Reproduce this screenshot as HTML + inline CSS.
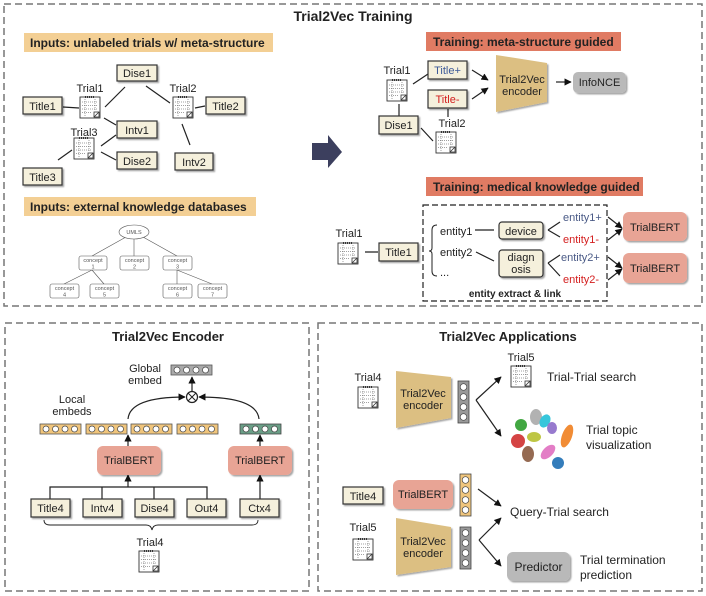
<!DOCTYPE html>
<html><head><meta charset="utf-8"><style>
html,body{margin:0;padding:0;background:#fff}
svg{display:block}
text{font-family:"Liberation Sans",sans-serif;font-size:11px;fill:#222}
.b{font-weight:bold}
.box{fill:#f5f0dc;stroke:#333;stroke-width:1.2}
.ln{stroke:#222;stroke-width:1.2;fill:none}
.c, .c text{font-size:5.5px;fill:#555}
</style></head><body>
<svg width="706" height="596" viewBox="0 0 706 596" xmlns="http://www.w3.org/2000/svg">
<defs>
<marker id="ah" viewBox="0 0 10 10" refX="9" refY="5" markerWidth="6" markerHeight="6" orient="auto"><path d="M0,0L10,5L0,10z" fill="#111"/></marker>
<filter id="sh" x="-20%" y="-20%" width="150%" height="150%"><feDropShadow dx="1.5" dy="1.5" stdDeviation="0.8" flood-color="#000" flood-opacity="0.35"/></filter>
<g id="icon">
<rect x="0" y="2" width="20" height="21" fill="#fff" stroke="#333" stroke-width="0.9"/>
<path d="M5,2 h10" stroke="#333" stroke-width="2" stroke-dasharray="1,1"/>
<path d="M2,7h16M2,10.5h16M2,14h16M2,17.5h10" stroke="#444" stroke-width="0.6" stroke-dasharray="1,1"/>
<path d="M5,4v17M15,4v12" stroke="#444" stroke-width="0.5" stroke-dasharray="1,1"/>
<rect x="14" y="17" width="5" height="5" fill="#fff" stroke="#333" stroke-width="0.8"/>
<path d="M14,22L19,17" stroke="#333" stroke-width="0.8"/>
</g>
<g id="hv"><rect x="0" y="0" width="41" height="10" fill="#f0c57c" stroke="#555" stroke-width="0.8"/>
<circle cx="6" cy="5" r="3" fill="#fff" stroke="#444" stroke-width="0.7"/><circle cx="15.5" cy="5" r="3" fill="#fff" stroke="#444" stroke-width="0.7"/><circle cx="25" cy="5" r="3" fill="#fff" stroke="#444" stroke-width="0.7"/><circle cx="34.5" cy="5" r="3" fill="#fff" stroke="#444" stroke-width="0.7"/></g>
<g id="vv"><rect x="0" y="0" width="11" height="42" fill="#999" stroke="#444" stroke-width="0.8"/>
<circle cx="5.5" cy="6" r="3.3" fill="#fff" stroke="#444" stroke-width="0.7"/><circle cx="5.5" cy="16" r="3.3" fill="#fff" stroke="#444" stroke-width="0.7"/><circle cx="5.5" cy="26" r="3.3" fill="#fff" stroke="#444" stroke-width="0.7"/><circle cx="5.5" cy="36" r="3.3" fill="#fff" stroke="#444" stroke-width="0.7"/></g>
</defs>

<rect x="4" y="4" width="698" height="302" fill="none" stroke="#777" stroke-width="1.5" stroke-dasharray="7,4"/>
<rect x="5" y="323" width="304" height="268" fill="none" stroke="#777" stroke-width="1.5" stroke-dasharray="7,4"/>
<rect x="318" y="323" width="384" height="268" fill="none" stroke="#777" stroke-width="1.5" stroke-dasharray="7,4"/>

<text x="353" y="21" text-anchor="middle" class="b" style="font-size:14px">Trial2Vec Training</text>

<rect x="24" y="33" width="249" height="19" fill="#f3cf94"/>
<text x="30" y="47" class="b" style="font-size:12px">Inputs: unlabeled trials w/ meta-structure</text>
<g class="ln">
<path d="M63,107L79,108M105,107L125,87M146,86L170,103M195,108L205,106M104,118L116,125M101,146L116,135M101,152L116,160M58,160L72,150M182,124L190,145"/>
</g>
<g filter="url(#sh)">
<rect class="box" x="117" y="65" width="40" height="16"/>
<rect class="box" x="23" y="97" width="39" height="17"/>
<rect class="box" x="206" y="97" width="39" height="17"/>
<rect class="box" x="117" y="121" width="40" height="17"/>
<rect class="box" x="117" y="152" width="40" height="17"/>
<rect class="box" x="175" y="153" width="38" height="17"/>
<rect class="box" x="23" y="168" width="39" height="17"/>
</g>
<text x="137" y="77" text-anchor="middle">Dise1</text>
<text x="42.5" y="110" text-anchor="middle">Title1</text>
<text x="225.5" y="110" text-anchor="middle">Title2</text>
<text x="137" y="134" text-anchor="middle">Intv1</text>
<text x="137" y="165" text-anchor="middle">Dise2</text>
<text x="194" y="166" text-anchor="middle">Intv2</text>
<text x="42.5" y="181" text-anchor="middle">Title3</text>
<text x="90" y="92" text-anchor="middle">Trial1</text><use href="#icon" x="80" y="95"/>
<text x="183" y="92" text-anchor="middle">Trial2</text><use href="#icon" x="173" y="95"/>
<text x="84" y="136" text-anchor="middle">Trial3</text><use href="#icon" x="74" y="136"/>

<rect x="24" y="197" width="232" height="19" fill="#f3cf94"/>
<text x="30" y="211" class="b" style="font-size:12px">Inputs: external knowledge databases</text>
<g stroke="#555" stroke-width="0.6" fill="none">
<path d="M126,237L92,256M134,239V256M143,237L177,256M92,270L64,284M92,270L104,284M177,270V284M177,270L212,284"/>
<ellipse cx="134" cy="232" rx="15" ry="7" fill="#fff"/>
<rect x="79" y="256" width="28" height="14" rx="2" fill="#fff"/>
<rect x="120" y="256" width="29" height="14" rx="2" fill="#fff"/>
<rect x="163" y="256" width="29" height="14" rx="2" fill="#fff"/>
<rect x="50" y="284" width="29" height="14" rx="2" fill="#fff"/>
<rect x="90" y="284" width="29" height="14" rx="2" fill="#fff"/>
<rect x="163" y="284" width="29" height="14" rx="2" fill="#fff"/>
<rect x="198" y="284" width="29" height="14" rx="2" fill="#fff"/>
</g>
<text x="134" y="234" text-anchor="middle" class="c">UMLS</text>
<g class="c" text-anchor="middle">
<text x="93" y="262">concept</text><text x="93" y="268.5">1</text>
<text x="134.5" y="262">concept</text><text x="134.5" y="268.5">2</text>
<text x="177.5" y="262">concept</text><text x="177.5" y="268.5">3</text>
<text x="64.5" y="290">concept</text><text x="64.5" y="296.5">4</text>
<text x="104.5" y="290">concept</text><text x="104.5" y="296.5">5</text>
<text x="177.5" y="290">concept</text><text x="177.5" y="296.5">6</text>
<text x="212.5" y="290">concept</text><text x="212.5" y="296.5">7</text>
</g>

<path d="M312,143H328V135L342,152L328,168V160H312Z" fill="#3c3f5e"/>

<rect x="426" y="32" width="195" height="19" fill="#e07b63"/>
<text x="433" y="46" class="b" style="font-size:12px">Training: meta-structure guided</text>
<text x="397" y="74" text-anchor="middle">Trial1</text><use href="#icon" x="387" y="78"/>
<g class="ln"><path d="M413,84L428,74M399,104V116M448,109V117M421,128L433,141"/>
<path d="M472,70L488,80" marker-end="url(#ah)"/><path d="M472,99L488,88" marker-end="url(#ah)"/><path d="M556,82L571,82" marker-end="url(#ah)"/></g>
<g filter="url(#sh)">
<rect class="box" x="428" y="61" width="39" height="18"/>
<rect class="box" x="428" y="90" width="39" height="18"/>
<rect class="box" x="379" y="116" width="39" height="18"/>
<path d="M496,55L547,63V102L496,112Z" fill="#dcbf82"/>
<rect x="573" y="72" width="53" height="21" rx="5" fill="#b9b9b9"/>
</g>
<text x="447.5" y="74" text-anchor="middle" style="fill:#3d5a99">Title+</text>
<text x="447.5" y="103" text-anchor="middle" style="fill:#d42020">Title-</text>
<text x="398.5" y="129" text-anchor="middle">Dise1</text>
<text x="452" y="127" text-anchor="middle">Trial2</text><use href="#icon" x="436" y="130"/>
<text x="522" y="83" text-anchor="middle">Trial2Vec</text><text x="522" y="95" text-anchor="middle">encoder</text>
<text x="599.5" y="86" text-anchor="middle">InfoNCE</text>

<rect x="426" y="177" width="217" height="19" fill="#e07b63"/>
<text x="433" y="191" class="b" style="font-size:12px">Training: medical knowledge guided</text>
<rect x="423" y="205" width="184" height="96" fill="none" stroke="#222" stroke-width="1.2" stroke-dasharray="6,3"/>
<text x="349" y="237" text-anchor="middle">Trial1</text><use href="#icon" x="338" y="241"/>
<g class="ln"><path d="M365,252H378M475,230H494M476,252L494,261M548,230L560,222M548,230L560,237M548,263L560,255M548,263L560,276"/>
<path d="M437,225Q432,225 432,230V248Q432,251 429,251Q432,251 432,254V271Q432,276 437,276" stroke-width="1"/>
<path d="M608,217L622,228" marker-end="url(#ah)"/><path d="M608,240L622,229" marker-end="url(#ah)"/>
<path d="M608,257L622,268" marker-end="url(#ah)"/><path d="M608,280L622,269" marker-end="url(#ah)"/></g>
<g filter="url(#sh)">
<rect class="box" x="379" y="243" width="39" height="18"/>
<rect class="box" x="499" y="222" width="44" height="17" rx="3"/>
<rect class="box" x="499" y="250" width="44" height="27" rx="3"/>
<rect x="623" y="212" width="64" height="29" rx="6" fill="#e8a495"/>
<rect x="623" y="253" width="64" height="30" rx="6" fill="#e8a495"/>
</g>
<text x="398.5" y="256" text-anchor="middle">Title1</text>
<text x="440" y="235">entity1</text><text x="440" y="256">entity2</text><text x="440" y="276">...</text>
<text x="521" y="235" text-anchor="middle">device</text>
<text x="521" y="261" text-anchor="middle">diagn</text><text x="521" y="273" text-anchor="middle">osis</text>
<text x="563" y="221" style="fill:#4a5a86">entity1+</text>
<text x="563" y="243" style="fill:#d42020">entity1-</text>
<text x="561" y="261" style="fill:#4a5a86">entity2+</text>
<text x="563" y="283" style="fill:#d42020">entity2-</text>
<text x="655" y="231" text-anchor="middle">TrialBERT</text>
<text x="655" y="272" text-anchor="middle">TrialBERT</text>
<text x="515" y="297" text-anchor="middle" class="b" style="font-size:10px">entity extract &amp; link</text>

<text x="168" y="341" text-anchor="middle" class="b" style="font-size:13px">Trial2Vec Encoder</text>
<text x="145" y="372" text-anchor="middle">Global</text><text x="145" y="384" text-anchor="middle">embed</text>
<g transform="translate(171,365)"><rect x="0" y="0" width="41" height="10" fill="#aaa" stroke="#555" stroke-width="0.8"/>
<circle cx="6" cy="5" r="3" fill="#fff" stroke="#444" stroke-width="0.7"/><circle cx="15.5" cy="5" r="3" fill="#fff" stroke="#444" stroke-width="0.7"/><circle cx="25" cy="5" r="3" fill="#fff" stroke="#444" stroke-width="0.7"/><circle cx="34.5" cy="5" r="3" fill="#fff" stroke="#444" stroke-width="0.7"/></g>
<g class="ln">
<path d="M192,391V377" marker-end="url(#ah)"/>
<circle cx="192" cy="397" r="5.5" fill="#fff"/>
<path d="M188,393L196,401M196,393L188,401" stroke-width="1"/>
<path d="M128,419Q130,397 185,397" marker-end="url(#ah)"/>
<path d="M259,419Q257,397 199,397" marker-end="url(#ah)"/>
<path d="M128,446V435" marker-end="url(#ah)"/><path d="M260,446V435" marker-end="url(#ah)"/>
<path d="M50,499V487H207V499M102,487V499M154,487V499"/>
<path d="M128,487V475" marker-end="url(#ah)"/><path d="M260,499V475" marker-end="url(#ah)"/>
<path d="M44,520Q44,525 50,525H146Q151,525 152,530Q153,525 158,525H252Q258,525 258,520" stroke-width="0.9"/>
</g>
<text x="72" y="403" text-anchor="middle">Local</text><text x="72" y="415" text-anchor="middle">embeds</text>
<use href="#hv" x="40" y="424"/><use href="#hv" x="86" y="424"/><use href="#hv" x="131" y="424"/><use href="#hv" x="177" y="424"/>
<g transform="translate(240,424)"><rect x="0" y="0" width="41" height="10" fill="#6a9e86" stroke="#444" stroke-width="0.8"/>
<circle cx="6" cy="5" r="3" fill="#fff" stroke="#444" stroke-width="0.7"/><circle cx="15.5" cy="5" r="3" fill="#fff" stroke="#444" stroke-width="0.7"/><circle cx="25" cy="5" r="3" fill="#fff" stroke="#444" stroke-width="0.7"/><circle cx="34.5" cy="5" r="3" fill="#fff" stroke="#444" stroke-width="0.7"/></g>
<g filter="url(#sh)">
<rect x="97" y="446" width="64" height="29" rx="6" fill="#e8a495"/>
<rect x="228" y="446" width="64" height="29" rx="6" fill="#e8a495"/>
<rect class="box" x="31" y="499" width="39" height="18"/>
<rect class="box" x="83" y="499" width="39" height="18"/>
<rect class="box" x="135" y="499" width="39" height="18"/>
<rect class="box" x="187" y="499" width="39" height="18"/>
<rect class="box" x="240" y="499" width="39" height="18"/>
</g>
<text x="129" y="464" text-anchor="middle">TrialBERT</text><text x="260" y="464" text-anchor="middle">TrialBERT</text>
<text x="50.5" y="512" text-anchor="middle">Title4</text>
<text x="102.5" y="512" text-anchor="middle">Intv4</text>
<text x="154.5" y="512" text-anchor="middle">Dise4</text>
<text x="206.5" y="512" text-anchor="middle">Out4</text>
<text x="259.5" y="512" text-anchor="middle">Ctx4</text>
<text x="150" y="546" text-anchor="middle">Trial4</text><use href="#icon" x="139" y="549"/>

<text x="508" y="341" text-anchor="middle" class="b" style="font-size:13px">Trial2Vec Applications</text>
<text x="368" y="381" text-anchor="middle">Trial4</text><use href="#icon" x="358" y="385"/>
<g filter="url(#sh)">
<path d="M396,371L451,377V418L396,428Z" fill="#dcbf82"/>
<path d="M396,518L451,527V567L396,575Z" fill="#dcbf82"/>
<rect class="box" x="343" y="487" width="40" height="17"/>
<rect x="393" y="480" width="60" height="29" rx="6" fill="#e8a495"/>
<rect x="507" y="552" width="63" height="29" rx="6" fill="#b9b9b9"/>
</g>
<text x="423" y="397" text-anchor="middle">Trial2Vec</text><text x="423" y="409" text-anchor="middle">encoder</text>
<text x="423" y="545" text-anchor="middle">Trial2Vec</text><text x="423" y="557" text-anchor="middle">encoder</text>
<text x="363" y="500" text-anchor="middle">Title4</text>
<text x="423" y="498" text-anchor="middle">TrialBERT</text>
<text x="538.5" y="571" text-anchor="middle" style="font-size:12px">Predictor</text>
<use href="#vv" x="458" y="381"/>
<g transform="translate(460,474)"><rect x="0" y="0" width="11" height="42" fill="#f0c57c" stroke="#444" stroke-width="0.8"/>
<circle cx="5.5" cy="6" r="3.3" fill="#fff" stroke="#444" stroke-width="0.7"/><circle cx="5.5" cy="16" r="3.3" fill="#fff" stroke="#444" stroke-width="0.7"/><circle cx="5.5" cy="26" r="3.3" fill="#fff" stroke="#444" stroke-width="0.7"/><circle cx="5.5" cy="36" r="3.3" fill="#fff" stroke="#444" stroke-width="0.7"/></g>
<use href="#vv" x="460" y="527"/>
<g class="ln">
<path d="M476,400L501,377" marker-end="url(#ah)"/><path d="M476,400L501,436" marker-end="url(#ah)"/>
<path d="M478,489L501,506" marker-end="url(#ah)"/>
<path d="M479,540L501,518" marker-end="url(#ah)"/><path d="M479,540L501,566" marker-end="url(#ah)"/>
</g>
<text x="521" y="361" text-anchor="middle">Trial5</text><use href="#icon" x="511" y="364"/>
<text x="547" y="381" style="font-size:12px">Trial-Trial search</text>
<g opacity="0.9">
<ellipse cx="536" cy="417" rx="6" ry="8" fill="#aaa"/>
<ellipse cx="545" cy="421" rx="5" ry="7" fill="#22c0d8" transform="rotate(30 545 421)"/>
<ellipse cx="552" cy="428" rx="5" ry="6" fill="#8c6cc9"/>
<ellipse cx="521" cy="425" rx="6" ry="6" fill="#2e9e2e"/>
<ellipse cx="567" cy="436" rx="5" ry="12" fill="#f08020" transform="rotate(20 567 436)"/>
<ellipse cx="534" cy="437" rx="7" ry="5" fill="#b8c030"/>
<ellipse cx="518" cy="441" rx="7" ry="7" fill="#d03030"/>
<ellipse cx="528" cy="454" rx="6" ry="8" fill="#8a5a40"/>
<ellipse cx="548" cy="452" rx="5" ry="9" fill="#e070c0" transform="rotate(45 548 452)"/>
<ellipse cx="558" cy="463" rx="6" ry="6" fill="#1f6fb4"/>
</g>
<text x="586" y="434" style="font-size:12px">Trial topic</text><text x="586" y="449" style="font-size:12px">visualization</text>
<text x="510" y="516" style="font-size:12px">Query-Trial search</text>
<text x="363" y="531" text-anchor="middle">Trial5</text><use href="#icon" x="353" y="537"/>
<text x="580" y="564" style="font-size:12px">Trial termination</text><text x="580" y="579" style="font-size:12px">prediction</text>
</svg>
</body></html>
